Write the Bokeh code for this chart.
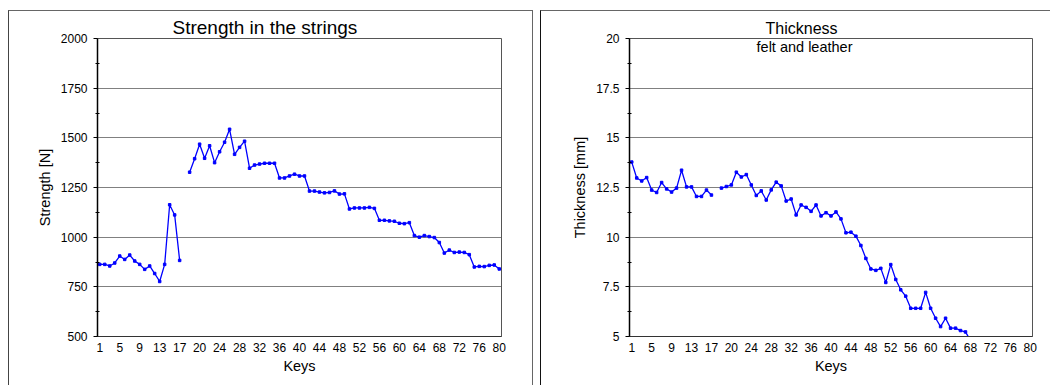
import numpy as np
from bokeh.plotting import figure
from bokeh.layouts import row
from bokeh.models import FixedTicker, Label, Range1d, NumeralTickFormatter, Title
from bokeh.embed import file_html
from bokeh.resources import INLINE

# ---- data -------------------------------------------------------------
# categories on the key axis (an empty category separates key 17 and key 18)
keys = [str(k) for k in range(1, 18)] + [""] + [str(k) for k in range(18, 81)]

strength = [863, 863, 855, 870, 905, 888, 910, 880, 863, 838, 855, 817, 777, 863, 1163, 1112, 883,
            None,
            1327, 1395, 1468, 1397, 1460, 1375, 1430, 1478, 1543, 1417, 1452, 1483, 1347, 1363, 1368,
            1372, 1372, 1372, 1298, 1298, 1308, 1317, 1308, 1308, 1232, 1232, 1227, 1223, 1225, 1233,
            1217, 1218, 1142, 1147, 1147, 1147, 1150, 1145, 1085, 1085, 1082, 1080, 1070, 1068, 1073,
            1008, 1000, 1008, 1003, 998, 973, 920, 935, 923, 925, 923, 912, 850, 853, 852, 858, 860, 840]

thickness = [13.78, 12.98, 12.83, 13.0, 12.37, 12.25, 12.75, 12.43, 12.27, 12.47, 13.37, 12.53, 12.53,
             12.05, 12.05, 12.37, 12.12,
             None,
             12.47, 12.55, 12.63, 13.27, 13.03, 13.15, 12.63, 12.1, 12.33, 11.87, 12.38, 12.77, 12.58,
             11.82, 11.92, 11.12, 11.62, 11.5, 11.3, 11.62, 11.07, 11.23, 11.07, 11.27, 10.92, 10.22,
             10.25, 10.05, 9.58, 8.93, 8.4, 8.33, 8.43, 7.72, 8.62, 7.87, 7.35, 7.03, 6.42, 6.42, 6.42,
             7.22, 6.42, 5.92, 5.5, 5.92, 5.42, 5.42, 5.3, 5.23, 4.8,
             None, None, None, None, None, None, None, None, None, None, None, None]

strength_ticks = [500, 750, 1000, 1250, 1500, 1750, 2000]
thickness_ticks = [5, 7.5, 10, 12.5, 15, 17.5, 20]

titles = ["Strength in the strings", "Thickness"]
subtitle = "felt and leather"
y_labels = ["Strength [N]", "Thickness [mm]"]
x_label = "Keys"

# ---- layout -----------------------------------------------------------
FONT = "Liberation Sans"
H = 385
TOP, BOTTOM = 38, 49
BLUE = "#0000FF"
xpos = list(range(1, len(keys) + 1))
tick_idx = xpos[0::4]
X0, X1 = 0.55, 81.45


def to_arr(v):
    return np.array([np.nan if a is None else a for a in v], dtype=float)


def border_css(left, top, width, right_side):
    sides = "border-left: 1px solid %s; border-top: 1px solid #666666; border-right: %s;" % (
        "#444444" if not right_side else "#111111",
        "1px solid #666666" if not right_side else "none")
    return (":host { overflow: visible; } "
            ":host::after { content: ''; position: absolute; left: %dpx; top: %dpx; "
            "width: %dpx; height: %dpx; %s border-bottom: none; box-sizing: border-box; "
            "pointer-events: none; z-index: 10; }" % (left, top, width, H - top, sides))


def make_panel(width, left, right, yvals, yticks, title, title_offset, title_size, title_standoff,
               ylabel, css, sub=None, sub_cx=None, yfmt=None):
    y0, y1 = yticks[0], yticks[-1]
    p = figure(width=width, height=H, output_backend="svg", toolbar_location=None,
               x_range=Range1d(X0, X1), y_range=Range1d(y0, y1),
               min_border_left=left, min_border_right=right,
               min_border_top=TOP, min_border_bottom=BOTTOM,
               background_fill_color="white", border_fill_color="white",
               stylesheets=[css])
    fw = width - left - right
    fh = H - TOP - BOTTOM

    def dx(px):
        return X0 + (px - left) * (X1 - X0) / fw

    def dy(py):
        return y1 - (py - TOP) * (y1 - y0) / fh

    p.outline_line_color = "#555555"
    p.outline_line_width = 1

    # grid
    p.xgrid.visible = False
    p.ygrid.grid_line_color = "black"
    p.ygrid.grid_line_dash = "1 1"
    p.ygrid.grid_line_width = 1

    # y axis
    minor = [(a + b) / 2 for a, b in zip(yticks[:-1], yticks[1:])]
    p.yaxis.ticker = FixedTicker(ticks=yticks, minor_ticks=minor)
    if yfmt is not None:
        p.yaxis.formatter = yfmt
    p.yaxis.axis_line_color = "black"
    p.yaxis.axis_line_width = 1.5
    p.yaxis.major_tick_out = 4
    p.yaxis.major_tick_in = 0
    p.yaxis.minor_tick_in = 2
    p.yaxis.minor_tick_out = 2
    p.yaxis.major_tick_line_color = "black"
    p.yaxis.minor_tick_line_color = "black"
    p.yaxis.major_label_text_font = FONT
    p.yaxis.major_label_text_font_size = "12px"
    p.yaxis.major_label_text_color = "black"
    p.yaxis.major_label_standoff = 6
    p.yaxis.axis_label = ylabel
    p.yaxis.axis_label_text_font = FONT
    p.yaxis.axis_label_text_font_size = "14.5px"
    p.yaxis.axis_label_text_font_style = "normal"
    p.yaxis.axis_label_text_color = "black"
    p.yaxis.axis_label_standoff = 5

    # x axis
    p.xaxis.ticker = FixedTicker(ticks=tick_idx, minor_ticks=[])
    p.xaxis.major_label_overrides = {i: keys[i - 1] if keys[i - 1] else "" for i in tick_idx}
    p.xaxis.axis_line_color = "#333333"
    p.xaxis.major_tick_out = 0
    p.xaxis.major_tick_in = 0
    p.xaxis.minor_tick_line_color = None
    p.xaxis.major_label_text_font = FONT
    p.xaxis.major_label_text_font_size = "12px"
    p.xaxis.major_label_text_color = "black"
    p.xaxis.major_label_standoff = 6
    p.xaxis.axis_label = x_label
    p.xaxis.axis_label_text_font = FONT
    p.xaxis.axis_label_text_font_size = "14.5px"
    p.xaxis.axis_label_text_font_style = "normal"
    p.xaxis.axis_label_text_color = "black"
    p.xaxis.axis_label_standoff = 3

    # data
    ys = to_arr(yvals)
    p.line(xpos, ys, line_color=BLUE, line_width=1.3)
    p.scatter(xpos, ys, marker="square", size=2.5, fill_color=BLUE, line_color=BLUE)

    # titles
    p.title = Title(text=title, align="left", offset=title_offset, text_font=FONT,
                    text_font_size=title_size, text_font_style="normal", text_color="black",
                    standoff=title_standoff)
    if sub:
        p.add_layout(Label(x=dx(sub_cx), y=dy(46), text=sub, text_align="center",
                           text_baseline="middle", text_font=FONT, text_font_size="14.5px",
                           text_color="black"))
    return p


p1 = make_panel(535, 97, 34, strength, strength_ticks, titles[0], 75, "19px", 2, y_labels[0],
                border_css(8, 10, 525, False))
p2 = make_panel(515, 94, 18, thickness, thickness_ticks, titles[1], 136, "16px", 4, y_labels[1],
                border_css(5, 10, 510, True), sub=subtitle, sub_cx=804 - 535,
                yfmt=NumeralTickFormatter(format="0.[0]"))

layout = row(p1, p2, spacing=0)
open("out.html", "w").write(file_html(layout, INLINE))
